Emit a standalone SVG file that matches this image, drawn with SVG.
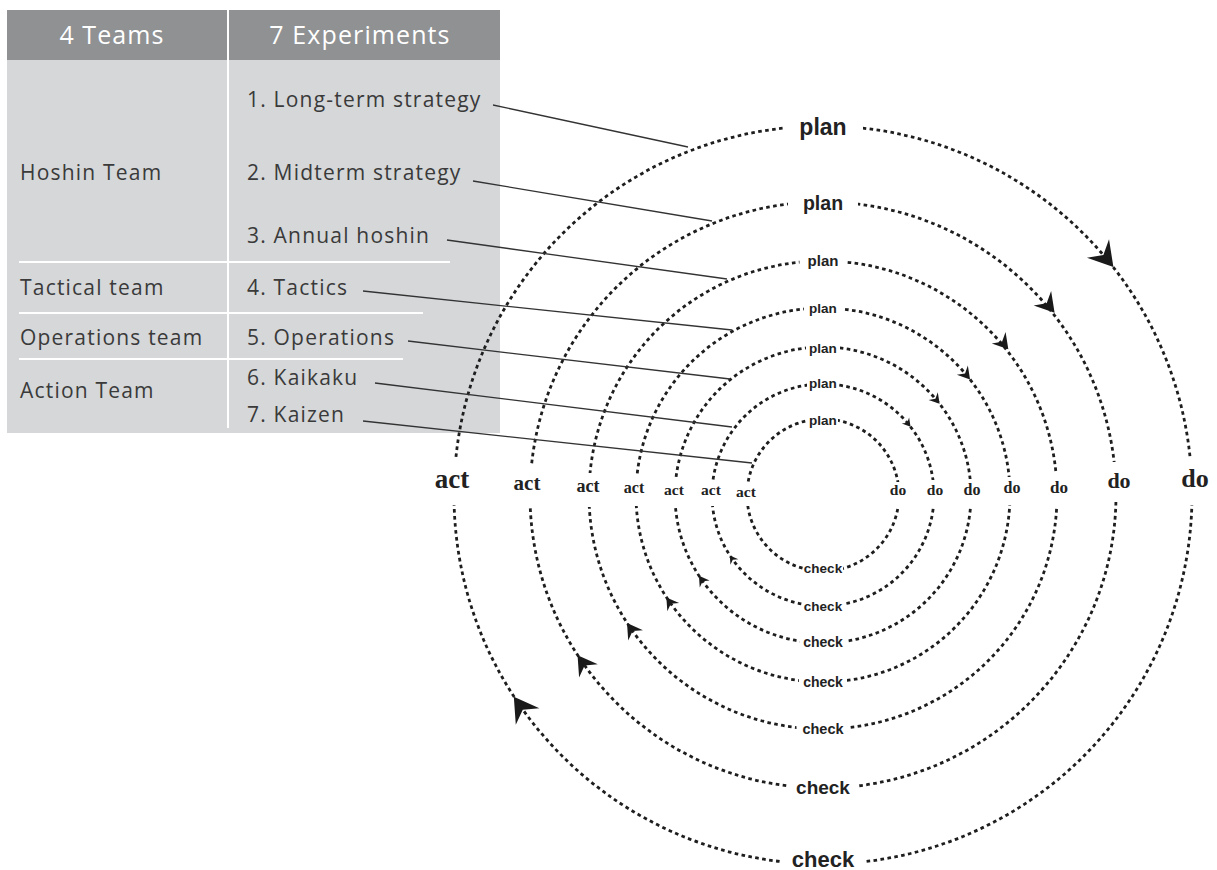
<svg xmlns="http://www.w3.org/2000/svg" width="1217" height="870" viewBox="0 0 1217 870">
<style>
.cell{fill:#d5d7d9}
.head{fill:#8f9193}
.sep{stroke:#fff;stroke-width:2}
.ht{font-family:"Open Sans","Liberation Sans",sans-serif;font-size:25px;fill:#fff;letter-spacing:1.1px;text-anchor:middle}
.bt{font-family:"Open Sans","Liberation Sans",sans-serif;font-size:21px;fill:#3a3a3a;letter-spacing:1.2px}
.ring{fill:none;stroke:#1e1e1e;stroke-width:2.8;stroke-dasharray:3.6 3.4}
.gap{fill:#fff}
.ls{font-family:"Liberation Sans",Arial,sans-serif;font-weight:bold;fill:#222;text-anchor:middle}
.lr{font-family:"Liberation Serif","Times New Roman",serif;font-weight:bold;fill:#222;text-anchor:middle}
.lead{stroke:#333;stroke-width:1.3;fill:none}
.ah{fill:#1a1a1a}
</style>
<defs>
<path id="ah" d="M0.5,0 L-0.5,-0.6 L-0.15,0 L-0.5,0.6 Z"/>
</defs>

<g id="table">
<rect x="7" y="10" width="493" height="423" class="cell"/>
<rect x="7" y="10" width="493" height="50" class="head"/>
<line x1="228" y1="10" x2="228" y2="428" class="sep"/>
<line x1="19" y1="262" x2="450" y2="262" class="sep"/>
<line x1="19" y1="313" x2="423" y2="313" class="sep"/>
<line x1="19" y1="359" x2="403" y2="359" class="sep"/>
<text x="112" y="44" class="ht">4 Teams</text>
<text x="360" y="44" class="ht">7 Experiments</text>
</g>
<g id="row-hoshin">
<text x="20" y="180" class="bt">Hoshin Team</text>
<text x="247" y="107" class="bt">1. Long-term strategy</text>
<text x="247" y="180" class="bt">2. Midterm strategy</text>
<text x="247" y="243" class="bt">3. Annual hoshin</text>
</g>
<g id="row-tactical">
<text x="20" y="295" class="bt">Tactical team</text>
<text x="247" y="295" class="bt">4. Tactics</text>
</g>
<g id="row-operations">
<text x="20" y="345" class="bt">Operations team</text>
<text x="247" y="345" class="bt">5. Operations</text>
</g>
<g id="row-action">
<text x="20" y="398" class="bt">Action Team</text>
<text x="247" y="385" class="bt">6. Kaikaku</text>
<text x="247" y="422" class="bt">7. Kaizen</text>
</g>

<g id="cycle-1">
<circle cx="823" cy="495" r="369" class="ring"/>
<rect x="783" y="116" width="80" height="22" class="gap"/>
<rect x="781" y="850" width="84" height="24" class="gap"/>
<rect x="434" y="458" width="38" height="47" class="gap"/>
<rect x="1178" y="458" width="32" height="47" class="gap"/>
<text x="823" y="135" class="ls" font-size="23">plan</text>
<text x="823" y="867" class="ls" font-size="22">check</text>
<text x="452" y="488" class="lr" font-size="27">act</text>
<text x="1195" y="487" class="lr" font-size="26">do</text>
<use href="#ah" class="ah" transform="translate(1105.7,257.8) rotate(50) scale(24)"/>
<use href="#ah" class="ah" transform="translate(520.7,706.7) rotate(235) scale(24)"/>
</g>

<g id="cycle-2">
<circle cx="823" cy="495" r="293" class="ring"/>
<rect x="788" y="193" width="70" height="20" class="gap"/>
<rect x="788" y="779" width="70" height="20" class="gap"/>
<rect x="513" y="465" width="30" height="40" class="gap"/>
<rect x="1105" y="462" width="28" height="40" class="gap"/>
<text x="823" y="210" class="ls" font-size="19.5">plan</text>
<text x="823" y="794" class="ls" font-size="19">check</text>
<text x="527" y="490" class="lr" font-size="21">act</text>
<text x="1119" y="488" class="lr" font-size="22">do</text>
<use href="#ah" class="ah" transform="translate(1048.5,305.5) rotate(50) scale(19)"/>
<use href="#ah" class="ah" transform="translate(583,663.1) rotate(235) scale(19)"/>
</g>

<g id="cycle-3">
<circle cx="823" cy="495" r="234" class="ring"/>
<rect x="799.5" y="253" width="47" height="16" class="gap"/>
<rect x="796.5" y="722" width="53" height="16" class="gap"/>
<rect x="575" y="473" width="26" height="34" class="gap"/>
<rect x="1048" y="474" width="22" height="32" class="gap"/>
<text x="823" y="266" class="ls" font-size="15">plan</text>
<text x="823" y="734" class="ls" font-size="14.5">check</text>
<text x="588" y="492" class="lr" font-size="18">act</text>
<text x="1059" y="493" class="lr" font-size="17">do</text>
<use href="#ah" class="ah" transform="translate(1003.5,343.5) rotate(50) scale(15)"/>
<use href="#ah" class="ah" transform="translate(631.3,629.2) rotate(235) scale(15)"/>
</g>

<g id="cycle-4">
<circle cx="823" cy="495" r="187" class="ring"/>
<rect x="804" y="302" width="38" height="14" class="gap"/>
<rect x="799" y="675" width="48" height="15" class="gap"/>
<rect x="622" y="476" width="24" height="30" class="gap"/>
<rect x="1001" y="477" width="22" height="28" class="gap"/>
<text x="823" y="313" class="ls" font-size="13.5">plan</text>
<text x="823" y="687" class="ls" font-size="14">check</text>
<text x="634" y="493" class="lr" font-size="16">act</text>
<text x="1012" y="493" class="lr" font-size="16">do</text>
<use href="#ah" class="ah" transform="translate(966.2,374.8) rotate(50) scale(12)"/>
<use href="#ah" class="ah" transform="translate(669.8,602.3) rotate(235) scale(12)"/>
</g>

<g id="cycle-5">
<circle cx="823" cy="495" r="148" class="ring"/>
<rect x="806" y="342" width="34" height="13" class="gap"/>
<rect x="800" y="636" width="46" height="14" class="gap"/>
<rect x="663" y="479" width="22" height="28" class="gap"/>
<rect x="961" y="479" width="22" height="28" class="gap"/>
<text x="823" y="353" class="ls" font-size="13.5">plan</text>
<text x="823" y="647" class="ls" font-size="14">check</text>
<text x="674" y="495" class="lr" font-size="15.5">act</text>
<text x="972" y="495" class="lr" font-size="16">do</text>
<use href="#ah" class="ah" transform="translate(936.4,399.9) rotate(50) scale(10)"/>
<use href="#ah" class="ah" transform="translate(701.8,579.9) rotate(235) scale(10)"/>
</g>

<g id="cycle-6">
<circle cx="823" cy="495" r="111" class="ring"/>
<rect x="807" y="377" width="32" height="13" class="gap"/>
<rect x="802" y="600" width="42" height="13" class="gap"/>
<rect x="700" y="480" width="22" height="26" class="gap"/>
<rect x="925" y="480" width="20" height="26" class="gap"/>
<text x="823" y="388" class="ls" font-size="13.5">plan</text>
<text x="823" y="611" class="ls" font-size="13.5">check</text>
<text x="711" y="495" class="lr" font-size="15.5">act</text>
<text x="935" y="495" class="lr" font-size="15.5">do</text>
<use href="#ah" class="ah" transform="translate(908,423.6) rotate(50) scale(8)"/>
<use href="#ah" class="ah" transform="translate(732.1,558.7) rotate(235) scale(8)"/>
</g>

<g id="cycle-7">
<circle cx="823" cy="495" r="76" class="ring"/>
<rect x="808" y="414" width="30" height="12" class="gap"/>
<rect x="803" y="562" width="40" height="13" class="gap"/>
<rect x="735" y="482" width="22" height="24" class="gap"/>
<rect x="888" y="482" width="20" height="24" class="gap"/>
<text x="823" y="425" class="ls" font-size="13.5">plan</text>
<text x="823" y="573" class="ls" font-size="13.5">check</text>
<text x="746" y="497" class="lr" font-size="15.5">act</text>
<text x="898" y="495" class="lr" font-size="15.5">do</text>
</g>

<g id="connectors">
<line x1="493" y1="105" x2="688" y2="147" class="lead"/>
<line x1="473" y1="181" x2="712" y2="221" class="lead"/>
<line x1="447" y1="240" x2="727" y2="279" class="lead"/>
<line x1="363" y1="291" x2="732" y2="330" class="lead"/>
<line x1="408" y1="341" x2="730" y2="379" class="lead"/>
<line x1="375" y1="383" x2="732" y2="427" class="lead"/>
<line x1="363" y1="421" x2="752" y2="463" class="lead"/>
</g>
</svg>
